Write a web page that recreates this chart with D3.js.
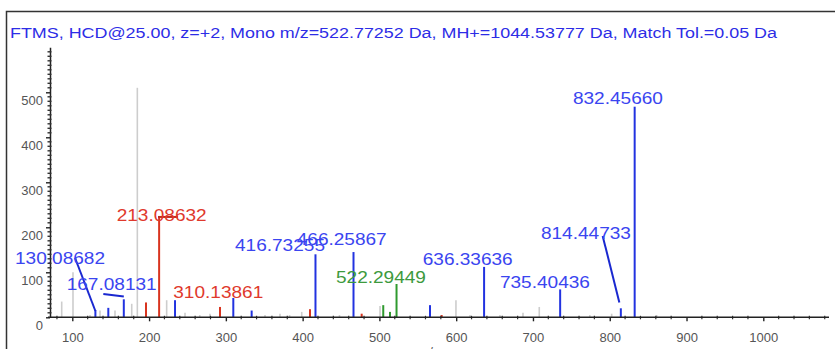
<!DOCTYPE html>
<html lang="en">
<head>
    <meta charset="utf-8">
    <title>FTMS HCD spectrum</title>
    <style>
        body, html { margin: 0; height: 100%; overflow: hidden; background: #fff; }
        svg { display: block; }
        text { font-family: "Liberation Sans", Arial, sans-serif; }
    </style>
    <script src="https://d3js.org/d3.v7.min.js"></script>
</head>
<body>
    <svg></svg>

    <script>
        const width = 835, height = 349;

        const title = "FTMS, HCD@25.00, z=+2, Mono m/z=522.77252 Da, MH+=1044.53777 Da, Match Tol.=0.05 Da";

        // unmatched peaks (gray)
        const grayMz  = [86.2, 100.9, 123, 136.1, 155.6, 177.4, 184.7, 222.9, 246.8, 266, 279.3, 351, 370.5, 383, 398.8, 448, 500.8, 599.7, 618, 657, 687.0, 708.2, 774, 802.5, 861.1];
        const grayInt = [35, 100, 5, 15, 15, 30, 510, 38, 10, 5, 8, 5, 8, 5, 12, 5, 25, 38, 5, 5, 10, 23, 5, 8, 5];

        // b ions (red)
        const redMz  = [196.0, 213.08632, 292.4, 409.6, 476.9, 581.1];
        const redInt = [33, 224, 23, 18, 8, 5];

        // y ions (blue)
        const blueMz  = [130.08682, 146.9, 167.08131, 233.8, 309.7, 333.6, 416.73255, 466.25867, 565.9, 636.33636, 735.40436, 814.44733, 832.45660];
        const blueInt = [16, 21, 40, 38, 43, 15, 140, 145, 27, 112, 62, 20, 468];

        // precursor related (green)
        const greenMz  = [505.0, 513.8, 522.29449];
        const greenInt = [27, 12, 74];

        // peak labels: text, colour key, label anchor (m/z, intensity)
        const labelText = ["832.45660", "213.08632", "130.08682", "167.08131", "310.13861", "416.73255", "466.25867", "522.29449", "636.33636", "735.40436", "814.44733"];
        const labelType = ["b", "r", "b", "b", "r", "b", "b", "g", "b", "b", "b"];
        const labelMz   = [752.1, 157.8, 25.4, 92.7, 231.5, 311.9, 392.3, 443.4, 556.4, 657.0, 710.4];
        const labelInt  = [475, 214.7, 118.4, 60.7, 42.2, 147.3, 160.7, 76.9, 116.2, 64.4, 173.3];

        // leader lines [mz1, int1, mz2, int2]
        const leaders = [
            {type: "b", pts: [103.6, 131.8, 130.08682, 14]},
            {type: "b", pts: [140.4, 51.8, 167.08131, 46]},
            {type: "b", pts: [790.8, 180.7, 812.5, 33]},
            {type: "r", pts: [211.6, 223, 237.7, 223]}
        ];

        const xTicks = d3.range(100, 1001, 100);
        const yTicks = d3.range(0, 501, 100);

        const peakColor  = {g0: "#cdcdcd", r: "#d8341f", b: "#2233e0", g: "#2f9a2f"};
        const labelColor = {r: "#e0392c", b: "#3a45f0", g: "#3d9a3d"};

        const svg = d3.select("svg").attr("width", width).attr("height", height);

        const x = d3.scaleLinear().domain([100, 1000]).range([72.3, 763.3]);
        const y = d3.scaleLinear().domain([0, 600]).range([317.3, 47.3]);

        // frame (left and top edges visible)
        svg.append("path")
            .attr("d", `M6.5,${height + 2}V11.5H${width + 2}`)
            .attr("fill", "none")
            .attr("stroke", "#333")
            .attr("stroke-width", 1.5);

        svg.append("text")
            .attr("x", 10)
            .attr("y", 37.5)
            .attr("font-size", 14)
            .attr("fill", "#2d2de6")
            .attr("textLength", 767)
            .attr("lengthAdjust", "spacingAndGlyphs")
            .text(title);

        const peaks = [];
        grayMz.forEach((m, i) => peaks.push({mz: m, v: grayInt[i], c: "g0"}));
        redMz.forEach((m, i) => peaks.push({mz: m, v: redInt[i], c: "r"}));
        blueMz.forEach((m, i) => peaks.push({mz: m, v: blueInt[i], c: "b"}));
        greenMz.forEach((m, i) => peaks.push({mz: m, v: greenInt[i], c: "g"}));

        svg.append("g").selectAll("line")
            .data(peaks)
            .join("line")
            .attr("x1", d => x(d.mz))
            .attr("x2", d => x(d.mz))
            .attr("y1", y(0))
            .attr("y2", d => y(d.v))
            .attr("stroke", d => peakColor[d.c])
            .attr("stroke-width", d => d.c === "g0" ? 1.6 : 2);

        svg.append("g").selectAll("line")
            .data(leaders)
            .join("line")
            .attr("x1", d => x(d.pts[0]))
            .attr("y1", d => y(d.pts[1]))
            .attr("x2", d => x(d.pts[2]))
            .attr("y2", d => y(d.pts[3]))
            .attr("stroke", d => d.type === "r" ? "#c02a1c" : "#1a28d0")
            .attr("stroke-width", 2);

        svg.append("g").selectAll("text")
            .data(labelText)
            .join("text")
            .attr("x", (d, i) => x(labelMz[i]))
            .attr("y", (d, i) => y(labelInt[i]))
            .attr("font-size", 17)
            .attr("fill", (d, i) => labelColor[labelType[i]])
            .attr("textLength", 90)
            .attr("lengthAdjust", "spacingAndGlyphs")
            .text(d => d);

        // x axis
        const xAxis = svg.append("g")
            .attr("transform", `translate(0,${y(0)})`)
            .call(d3.axisBottom(x).tickValues(xTicks).tickSize(4).tickPadding(11).tickFormat(d3.format("d")));
        xAxis.select(".domain").remove();
        xAxis.selectAll("line").attr("stroke", "#222").attr("stroke-width", 1.4);
        xAxis.selectAll("text").attr("font-size", 13).attr("fill", "#555")
            .attr("font-family", "\"Liberation Sans\", Arial, sans-serif");
        svg.append("g").selectAll("line")
            .data(d3.range(80, 1081, 20).filter(v => v % 100 !== 0))
            .join("line")
            .attr("x1", d => x(d)).attr("x2", d => x(d))
            .attr("y1", y(0) - 1.5).attr("y2", y(0) + 2)
            .attr("stroke", "#333").attr("stroke-width", 1.2);
        svg.append("line")
            .attr("x1", 48).attr("x2", 829)
            .attr("y1", y(0)).attr("y2", y(0))
            .attr("stroke", "#222").attr("stroke-width", 1.6);

        // y axis
        const yAxis = svg.append("g")
            .attr("transform", "translate(50,0)")
            .call(d3.axisLeft(y).tickValues(yTicks).tickSize(4).tickSizeOuter(0).tickPadding(3));
        yAxis.select(".domain").attr("stroke", "#222").attr("stroke-width", 1.5);
        yAxis.selectAll("line").attr("stroke", "#222").attr("stroke-width", 1.4);
        yAxis.selectAll("text").attr("font-size", 13).attr("fill", "#555")
            .attr("dy", "0.95em")
            .attr("font-family", "\"Liberation Sans\", Arial, sans-serif");
        svg.append("g").selectAll("line")
            .data(d3.range(10, 600, 10).filter(v => v % 100 !== 0))
            .join("line")
            .attr("x1", 47.5).attr("x2", 51.5)
            .attr("y1", d => y(d)).attr("y2", d => y(d))
            .attr("stroke", "#333").attr("stroke-width", 1.4);

        svg.append("text")
            .attr("x", 429)
            .attr("y", 356)
            .attr("text-anchor", "middle")
            .attr("font-size", 13)
            .attr("fill", "#555")
            .text("m/z");
    </script>
</body>
</html>
